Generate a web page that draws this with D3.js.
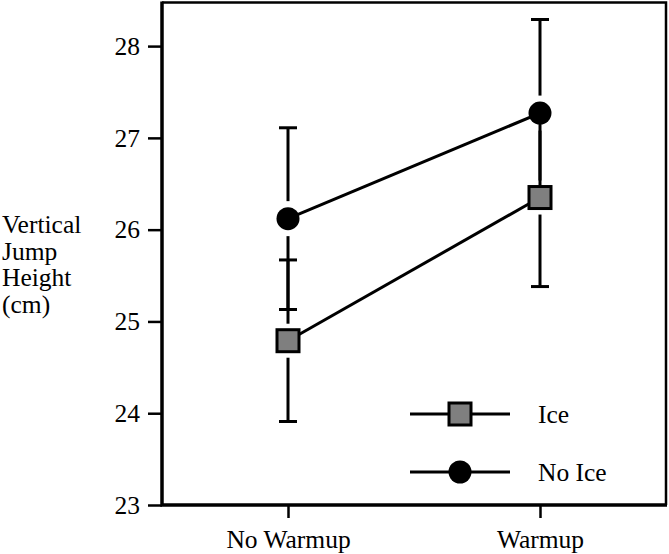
<!DOCTYPE html>
<html>
<head>
<meta charset="utf-8">
<script src="https://cdn.jsdelivr.net/npm/d3@7"></script>
<style>
  body { margin: 0; background: #fff; }
  svg { display: block; }
  svg text { font-family: 'Liberation Serif', 'DejaVu Serif', serif !important; font-size: 25.5px; fill: #000; }
</style>
</head>
<body>
<div id="chart"></div>
<script>
// data (mean +/- error)
const categories = ['No Warmup', 'Warmup'];
const iceMean = [24.79, 26.35];
const iceErr = [0.88, 0.97];
const noIceMean = [26.12, 27.27];
const noIceErr = [0.99, 1.02];
const yTicks = [23, 24, 25, 26, 27, 28];
const seriesNames = ['Ice', 'No Ice'];

const width = 669,
    height = 554,
    box = { left: 162, right: 666, top: 2.5, bottom: 505 },
    markerR = 11.5,
    sq = 22,
    gap = 6,
    capW = 9,
    serif = "'Liberation Serif', 'DejaVu Serif', serif";

const svg = d3.select('#chart')
    .append('svg')
    .attr('width', width)
    .attr('height', height)
    .attr('font-family', serif);

const x = d3.scalePoint()
    .domain(categories)
    .range([box.left, box.right])
    .padding(0.5);

const y = d3.scaleLinear()
    .domain([23, 28.475])
    .range([box.bottom, box.top]);

// axes
const yAxis = svg.append('g')
    .attr('transform', `translate(${box.left},0)`)
    .call(d3.axisLeft(y).tickValues(yTicks).tickFormat(d3.format('d')).tickSize(14).tickPadding(8))
    .attr('font-family', serif);
yAxis.select('.domain').remove();
yAxis.selectAll('line').attr('stroke', '#000').attr('stroke-width', 2.5);

const xAxis = svg.append('g')
    .attr('transform', `translate(0,${box.bottom})`)
    .call(d3.axisBottom(x).tickSize(13).tickPadding(12))
    .attr('font-family', serif);
xAxis.select('.domain').remove();
xAxis.selectAll('line').attr('stroke', '#000').attr('stroke-width', 2.5);

// frame: heavier left/bottom
svg.append('path')
    .attr('d', `M${box.left},${box.top}H${box.right}V${box.bottom}`)
    .attr('fill', 'none').attr('stroke', '#000').attr('stroke-width', 2.5);
svg.append('path')
    .attr('d', `M${box.left},${box.top - 1}V${box.bottom}H${box.right + 1}`)
    .attr('fill', 'none').attr('stroke', '#000').attr('stroke-width', 3.5);

const series = [
    { name: 'Ice', mean: iceMean, err: iceErr, shape: 'square' },
    { name: 'No Ice', mean: noIceMean, err: noIceErr, shape: 'circle' }
];

// error bars, split around the marker
series.forEach((s) => {
    const g = svg.append('g').attr('stroke', '#000').attr('stroke-width', 3);
    categories.forEach((c, i) => {
        const cx = x(c), cy = y(s.mean[i]);
        const hi = y(s.mean[i] + s.err[i]), lo = y(s.mean[i] - s.err[i]);
        const off = (s.shape === 'square' ? sq / 2 : markerR) + gap;
        g.append('line').attr('x1', cx).attr('x2', cx).attr('y1', cy - off).attr('y2', hi);
        g.append('line').attr('x1', cx - capW).attr('x2', cx + capW).attr('y1', hi).attr('y2', hi);
        g.append('line').attr('x1', cx).attr('x2', cx).attr('y1', cy + off).attr('y2', lo);
        g.append('line').attr('x1', cx - capW).attr('x2', cx + capW).attr('y1', lo).attr('y2', lo);
    });
});

const line = d3.line()
    .x((d, i) => x(categories[i]))
    .y((d) => y(d));

function drawMarker(g, shape, cx, cy) {
    if (shape === 'square') {
        g.append('rect')
            .attr('x', cx - sq / 2).attr('y', cy - sq / 2)
            .attr('width', sq).attr('height', sq)
            .attr('fill', '#7f7f7f').attr('stroke', '#000').attr('stroke-width', 3);
    } else {
        g.append('circle')
            .attr('cx', cx).attr('cy', cy).attr('r', markerR)
            .attr('fill', '#000');
    }
}

series.forEach((s) => {
    svg.append('path')
        .datum(s.mean)
        .attr('d', line)
        .attr('fill', 'none')
        .attr('stroke', '#000')
        .attr('stroke-width', 3);
    const g = svg.append('g');
    s.mean.forEach((m, i) => drawMarker(g, s.shape, x(categories[i]), y(m)));
});

// legend
const legend = svg.append('g');
seriesNames.forEach((name, i) => {
    const s = series.find((d) => d.name === name);
    const ly = 414 + i * 58;
    legend.append('line')
        .attr('x1', 410).attr('x2', 510).attr('y1', ly).attr('y2', ly)
        .attr('stroke', '#000').attr('stroke-width', 3);
    drawMarker(legend, s.shape, 460, ly);
    legend.append('text')
        .attr('x', 538).attr('y', ly).attr('dy', '0.35em')
        .text(name);
});

// y axis title
const title = svg.append('text').attr('x', 2).attr('y', 233);
['Vertical', 'Jump', 'Height', '(cm)'].forEach((t, i) => {
    title.append('tspan').attr('x', 2).attr('dy', i === 0 ? 0 : 26.7).text(t);
});
</script>
</body>
</html>
